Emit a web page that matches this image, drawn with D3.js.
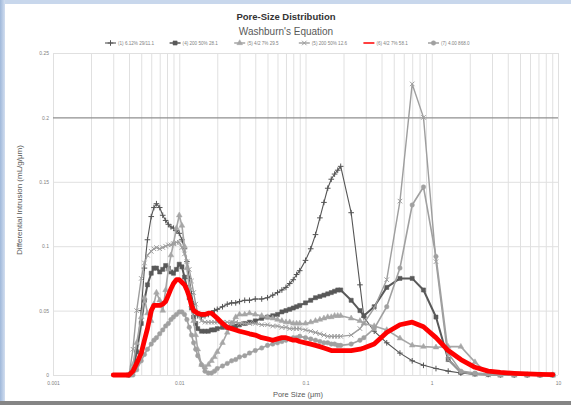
<!DOCTYPE html>
<html>
<head>
<meta charset="utf-8">
<script src="https://cdn.jsdelivr.net/npm/d3@7"></script>
<style>
  html, body { margin: 0; padding: 0; background: #fff; overflow: hidden; }
  svg { display: block; }
</style>
</head>
<body>
<svg id="chart" width="571" height="405"></svg>
<script>
// Pore sizes (µm) shared by every sample
const poreSize = [0.003, 0.0035, 0.004, 0.0043, 0.0046, 0.005, 0.0053, 0.0056, 0.006, 0.0063,
  0.0066, 0.007, 0.0074, 0.0078, 0.0082, 0.0086, 0.009, 0.0095, 0.01, 0.0105,
  0.011, 0.0115, 0.012, 0.0125, 0.013, 0.0135, 0.014, 0.015, 0.016, 0.017,
  0.018, 0.019, 0.02, 0.022, 0.024, 0.026, 0.028, 0.03, 0.033, 0.036,
  0.04, 0.045, 0.05, 0.055, 0.06, 0.065, 0.07, 0.075, 0.08, 0.085,
  0.09, 0.1, 0.11, 0.12, 0.13, 0.14, 0.15, 0.16, 0.17, 0.18,
  0.19, 0.23, 0.27, 0.29, 0.35, 0.44, 0.56, 0.70, 0.86, 1.08,
  1.35, 1.7, 2.2, 2.8, 3.5, 4.5, 5.7, 7.2, 9.1];

// Differential intrusion (mL/g/µm) per sample
const sample1 = [null, null, 0, 0.004, 0.018, 0.050, 0.083, 0.105, 0.123, 0.130,
  0.133, 0.130, 0.124, 0.120, 0.117, 0.115, 0.114, 0.112, 0.110, 0.105,
  0.098, 0.088, 0.075, 0.063, 0.055, 0.049, 0.046, 0.045, 0.046, 0.047,
  0.048, 0.050, 0.051, 0.053, 0.055, 0.056, 0.056, 0.057, 0.058, 0.058,
  0.059, 0.059, 0.060, 0.062, 0.064, 0.066, 0.068, 0.071, 0.074, 0.078,
  0.081, 0.089, 0.098, 0.109, 0.122, 0.134, 0.145, 0.152, 0.156, 0.159,
  0.162, 0.126, 0.070, 0.045, 0.034, 0.025, 0.017, 0.011, 0.0075, 0.005,
  0.003, 0.0015, 0.0008, 0.0004, 0.0002, 0, 0, 0, 0];

const sample4 = [null, null, 0, 0.004, 0.018, 0.040, 0.058, 0.070, 0.079, 0.083,
  0.083, 0.080, 0.082, 0.085, 0.083, 0.080, 0.079, 0.082, 0.086, 0.084,
  0.076, 0.068, 0.060, 0.052, 0.045, 0.040, 0.036, 0.034, 0.034, 0.034,
  0.035, 0.035, 0.036, 0.037, 0.037, 0.038, 0.038, 0.039, 0.040, 0.041,
  0.042, 0.044, 0.045, 0.046, 0.047, 0.049, 0.050, 0.051, 0.052, 0.053,
  0.054, 0.056, 0.058, 0.060, 0.061, 0.062, 0.063, 0.064, 0.065, 0.066,
  0.066, 0.058, 0.050, 0.046, 0.053, 0.068, 0.075, 0.075, 0.066, 0.045,
  0.012, 0.002, 0.0008, 0.0004, 0, 0, 0, 0, 0];

const sample5a = [null, null, 0, 0.008, 0.025, 0.045, 0.060, 0.048, 0.042, 0.055,
  0.064, 0.058, 0.050, 0.066, 0.082, 0.093, 0.102, 0.114, 0.124, 0.116,
  0.100, 0.083, 0.068, 0.054, 0.042, 0.031, 0.020, 0.008, 0.006, 0.008,
  0.011, 0.014, 0.018, 0.025, 0.033, 0.040, 0.045, 0.047, 0.047, 0.048,
  0.047, 0.046, 0.045, 0.044, 0.043, 0.042, 0.041, 0.041, 0.040, 0.040,
  0.040, 0.040, 0.041, 0.042, 0.043, 0.044, 0.045, 0.045, 0.046, 0.046,
  0.046, 0.044, 0.042, 0.040, 0.038, 0.035, 0.0285, 0.023, 0.022, 0.0215,
  0.022, 0.022, 0.010, 0.001, 0, 0, 0, 0, 0];

const sample5b = [null, null, 0, 0.020, 0.050, 0.075, 0.087, 0.093, 0.096, 0.098,
  0.099, 0.098, 0.099, 0.100, 0.101, 0.101, 0.102, 0.103, 0.103, 0.099,
  0.094, 0.088, 0.082, 0.073, 0.064, 0.055, 0.048, 0.042, 0.041, 0.041,
  0.041, 0.041, 0.041, 0.041, 0.041, 0.041, 0.041, 0.040, 0.040, 0.040,
  0.040, 0.039, 0.039, 0.038, 0.038, 0.037, 0.037, 0.036, 0.036, 0.036,
  0.036, 0.035, 0.034, 0.033, 0.032, 0.031, 0.030, 0.030, 0.030, 0.030,
  0.030, 0.031, 0.036, 0.040, 0.052, 0.074, 0.135, 0.226, 0.200, 0.088,
  0.012, 0.002, 0.0005, 0, 0, 0, 0, 0, 0];

const sample6 = [0, 0, 0, 0.003, 0.009, 0.017, 0.027, 0.036, 0.050, 0.054,
  0.054, 0.054, 0.055, 0.057, 0.062, 0.067, 0.071, 0.074, 0.074, 0.072,
  0.070, 0.066, 0.061, 0.054, 0.050, 0.049, 0.048, 0.047, 0.047, 0.048,
  0.048, 0.046, 0.044, 0.040, 0.037, 0.036, 0.035, 0.034, 0.033, 0.032,
  0.031, 0.029, 0.028, 0.027, 0.028, 0.029, 0.029, 0.028, 0.027, 0.027,
  0.026, 0.025, 0.024, 0.023, 0.022, 0.021, 0.020, 0.019, 0.019, 0.019,
  0.019, 0.019, 0.020, 0.021, 0.024, 0.033, 0.039, 0.041, 0.0375, 0.029,
  0.019, 0.012, 0.006, 0.003, 0.002, 0.0013, 0.0008, 0.0005, 0.0003];

const sample7 = [null, null, null, 0, 0.004, 0.011, 0.016, 0.020, 0.024, 0.027,
  0.029, 0.032, 0.035, 0.038, 0.040, 0.043, 0.045, 0.047, 0.049, 0.049,
  0.047, 0.043, 0.037, 0.031, 0.025, 0.020, 0.015, 0.008, 0.003, 0.0015,
  0.0015, 0.003, 0.005, 0.007, 0.009, 0.011, 0.012, 0.014, 0.015, 0.017,
  0.019, 0.021, 0.023, 0.024, 0.025, 0.026, 0.027, 0.028, 0.029, 0.029,
  0.030, 0.029, 0.028, 0.027, 0.026, 0.025, 0.025, 0.024, 0.024, 0.023,
  0.023, 0.024, 0.027, 0.029, 0.036, 0.053, 0.083, 0.132, 0.146, 0.092,
  0.017, 0.003, 0.0015, 0.001, 0.0008, 0.0005, 0.0003, 0, 0];

const seriesNames = ["(1) 6.12% 29/11.1", "(4) 200 50% 28.1", "(5) 4/2 7% 29.5",
  "(5) 200 50% 12.6", "(6) 4/2 7% 58.1", "(7) 4.00 868.0"];

const xTickValues = [0.001, 0.01, 0.1, 1, 10];
const yTickValues = [0, 0.05, 0.1, 0.15, 0.2, 0.25];

// Appearance of each sample; drawn in this order (the red one last, on top)
const series = [
  { name: seriesNames[0], values: sample1, color: "#555555", width: 1.1, symbol: d3.symbolPlus, size: 12, fill: false, legendSlot: 0 },
  { name: seriesNames[1], values: sample4, color: "#595959", width: 2, symbol: d3.symbolSquare, size: 17, fill: true, legendSlot: 1 },
  { name: seriesNames[2], values: sample5a, color: "#a6a6a6", width: 1.6, symbol: d3.symbolTriangle, size: 14, fill: true, legendSlot: 2 },
  { name: seriesNames[3], values: sample5b, color: "#9e9e9e", width: 1.4, symbol: d3.symbolTimes, size: 15, fill: false, legendSlot: 3 },
  { name: seriesNames[5], values: sample7, color: "#a0a0a0", width: 1.6, symbol: d3.symbolCircle, size: 16, fill: true, legendSlot: 5 },
  { name: seriesNames[4], values: sample6, color: "#ff0000", width: 4.8, symbol: null, size: 0, fill: true, legendSlot: 4 }
];

const W = 571, H = 405;
const plot = { left: 53, right: 558, top: 53, bottom: 375 };
const svg = d3.select("#chart");
const FONT = "'Liberation Sans', Arial, sans-serif";

// frame: blue strips left and top, grey bar at the bottom
const grad = svg.append("defs").append("linearGradient").attr("id", "leftStrip")
  .attr("x1", 0).attr("x2", 1).attr("y1", 0).attr("y2", 0);
grad.append("stop").attr("offset", "0%").attr("stop-color", "#9fb8da");
grad.append("stop").attr("offset", "100%").attr("stop-color", "#d2def0");
svg.append("rect").attr("x", 0).attr("y", 0).attr("width", W).attr("height", 4).attr("fill", "#c8d7ec");
svg.append("rect").attr("x", 0).attr("y", 0).attr("width", 5).attr("height", H).attr("fill", "url(#leftStrip)");
svg.append("rect").attr("x", 0).attr("y", 401).attr("width", W).attr("height", 4).attr("fill", "#858585");

const x = d3.scaleLog().domain([0.001, 10]).range([plot.left, plot.right]);
const y = d3.scaleLinear().domain([0, 0.25]).range([plot.bottom, plot.top]);

// vertical gridlines at every log step
const minorTicks = [];
[0.001, 0.01, 0.1, 1].forEach(dec => { for (let m = 1; m <= 9; m++) minorTicks.push(+(dec * m).toPrecision(3)); });
minorTicks.push(10);
const vGrid = svg.append("g").attr("transform", `translate(0,${plot.bottom})`)
  .call(d3.axisBottom(x).tickValues(minorTicks).tickSize(-(plot.bottom - plot.top)).tickFormat(""));
vGrid.select(".domain").remove();
vGrid.selectAll(".tick line").attr("stroke", "#e0e0e0").attr("stroke-width", 1);

// horizontal gridlines and value labels
const yAxis = svg.append("g").attr("transform", `translate(${plot.left},0)`)
  .call(d3.axisLeft(y).tickValues(yTickValues).tickSize(-(plot.right - plot.left))
    .tickFormat(d => d === 0 ? "0" : String(+d.toFixed(2))).tickPadding(4));
yAxis.select(".domain").remove();
yAxis.selectAll(".tick line").attr("stroke", d => d === 0.2 ? "#8f8f8f" : "#e0e0e0")
  .attr("stroke-width", d => d === 0.2 ? 1.2 : 1);
yAxis.selectAll(".tick text").attr("font-family", FONT).attr("font-size", 5).attr("fill", "#7f7f7f");

// pore size labels
const xAxis = svg.append("g").attr("transform", `translate(0,${plot.bottom})`)
  .call(d3.axisBottom(x).tickValues(xTickValues).tickSize(0).tickPadding(6)
    .tickFormat(d => String(d)));
xAxis.select(".domain").remove();
xAxis.selectAll(".tick text").attr("font-family", FONT).attr("font-size", 5).attr("fill", "#7f7f7f");

// sample curves with their markers
const line = d3.line()
  .defined(d => d[1] !== null)
  .x(d => x(d[0]))
  .y(d => y(d[1]));

series.forEach(s => {
  const pts = poreSize.map((p, i) => [p, s.values[i]]);
  const g = svg.append("g");
  g.append("path").datum(pts)
    .attr("d", line)
    .attr("fill", "none")
    .attr("stroke", s.color)
    .attr("stroke-width", s.width)
    .attr("stroke-linejoin", "round")
    .attr("stroke-linecap", "round");
  if (s.symbol) {
    const sym = d3.symbol().type(s.symbol).size(s.size);
    g.selectAll("path.mk").data(pts.filter(d => d[1] !== null)).join("path")
      .attr("class", "mk")
      .attr("transform", d => `translate(${x(d[0])},${y(d[1])})`)
      .attr("d", sym)
      .attr("fill", s.fill ? s.color : "none")
      .attr("stroke", s.color)
      .attr("stroke-width", s.fill ? 0.5 : 1);
  }
});

// titles
svg.append("text").attr("x", 286).attr("y", 20).attr("text-anchor", "middle")
  .attr("font-family", FONT).attr("font-size", 9.5).attr("font-weight", "bold").attr("fill", "#333")
  .text("Pore-Size Distribution");
svg.append("text").attr("x", 286).attr("y", 35).attr("text-anchor", "middle")
  .attr("font-family", FONT).attr("font-size", 10).attr("fill", "#595959")
  .text("Washburn's Equation");

// axis titles
svg.append("text").attr("x", 298).attr("y", 397).attr("text-anchor", "middle")
  .attr("font-family", FONT).attr("font-size", 7.5).attr("fill", "#595959")
  .text("Pore Size (μm)");
svg.append("text").attr("transform", "translate(22,200) rotate(-90)").attr("text-anchor", "middle")
  .attr("font-family", FONT).attr("font-size", 8).attr("fill", "#595959")
  .text("Differential Intrusion (mL/g/μm)");

// legend
const legend = svg.append("g").attr("transform", "translate(105,43)");
series.forEach(s => {
  const g = legend.append("g").attr("transform", `translate(${s.legendSlot * 64.6},0)`);
  g.append("line").attr("x1", 0).attr("x2", 11).attr("y1", 0).attr("y2", 0)
    .attr("stroke", s.color).attr("stroke-width", Math.min(s.width, 1.5));
  if (s.symbol) {
    g.append("path").attr("transform", "translate(5.5,0)")
      .attr("d", d3.symbol().type(s.symbol).size(s.size)())
      .attr("fill", s.fill ? s.color : "none").attr("stroke", s.color)
      .attr("stroke-width", s.fill ? 0.5 : 1);
  }
  g.append("text").attr("x", 13).attr("y", 1.8)
    .attr("font-family", FONT).attr("font-size", 4.6).attr("fill", "#7f7f7f")
    .text(s.name);
});
</script>
</body>
</html>
